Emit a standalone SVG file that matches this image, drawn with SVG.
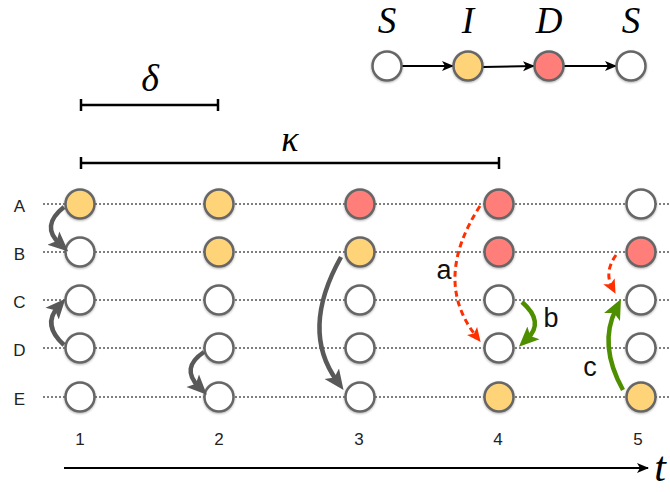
<svg xmlns="http://www.w3.org/2000/svg" width="670" height="492" viewBox="0 0 670 492">
<style>
.n{stroke:#666;stroke-width:2.5}
.s{fill:#ffffff}.i{fill:#FFD479}.d{fill:#FF7E79}
.grid{stroke:#000;stroke-width:1;stroke-dasharray:2 2}
.lab{font-family:"Liberation Sans",Arial,sans-serif;font-size:17px;fill:#222}
.math{font-family:"Liberation Serif","Times New Roman",serif;font-style:italic;fill:#000}
.big{font-family:"Liberation Sans",Arial,sans-serif;font-size:27px;fill:#111}
.ga{fill:none;stroke:#595959;stroke-width:4.5}
.ra{fill:none;stroke:#FF2F00;stroke-width:3;stroke-dasharray:6 4}
.gr{fill:none;stroke:#4E8F00;stroke-width:4.5}
.bar{stroke:#000;stroke-width:2.5}
</style>
<defs>
<filter id="sh" x="-30%" y="-30%" width="160%" height="160%">
<feDropShadow dx="0" dy="1" stdDeviation="1" flood-color="#000" flood-opacity="0.3"/>
</filter>
<marker id="mg" markerUnits="userSpaceOnUse" markerWidth="20" markerHeight="20" viewBox="0 0 18 16" refX="8" refY="8" orient="auto">
<path d="M0,0 L18,8 L0,16 L4,8 z" fill="#595959"/>
</marker>
<marker id="mgr" markerUnits="userSpaceOnUse" markerWidth="20" markerHeight="20" viewBox="0 0 18 16" refX="8" refY="8" orient="auto">
<path d="M0,0 L18,8 L0,16 L4,8 z" fill="#4E8F00"/>
</marker>
<marker id="mr" markerUnits="userSpaceOnUse" markerWidth="14" markerHeight="14" viewBox="0 0 13 12" refX="6" refY="6" orient="auto">
<path d="M0,0 L13,6 L0,12 L3,6 z" fill="#FF2F00"/>
</marker>
<marker id="mb" markerUnits="userSpaceOnUse" markerWidth="12" markerHeight="12" viewBox="0 0 12 10" refX="11" refY="5" orient="auto">
<path d="M0,0 L12,5 L0,10 L3,5 z" fill="#000"/>
</marker>
</defs>
<rect width="670" height="492" fill="#fff"/>

<g id="grid">
<line class="grid" x1="43" y1="204" x2="670" y2="204"/>
<line class="grid" x1="43" y1="252" x2="670" y2="252"/>
<line class="grid" x1="43" y1="300" x2="670" y2="300"/>
<line class="grid" x1="43" y1="348" x2="670" y2="348"/>
<line class="grid" x1="43" y1="397" x2="670" y2="397"/>
</g>

<g id="row-labels">
<text class="lab" x="19.5" y="212" text-anchor="middle">A</text>
<text class="lab" x="19.5" y="260" text-anchor="middle">B</text>
<text class="lab" x="19.5" y="308" text-anchor="middle">C</text>
<text class="lab" x="19.5" y="356" text-anchor="middle">D</text>
<text class="lab" x="19.5" y="405" text-anchor="middle">E</text>
</g>

<g id="time-labels">
<text class="lab" x="80" y="445" text-anchor="middle">1</text>
<text class="lab" x="219" y="445" text-anchor="middle">2</text>
<text class="lab" x="359" y="445" text-anchor="middle">3</text>
<text class="lab" x="498" y="445" text-anchor="middle">4</text>
<text class="lab" x="638" y="445" text-anchor="middle">5</text>
</g>

<g id="scales">
<line class="bar" x1="80" y1="105" x2="219" y2="105"/>
<line class="bar" x1="81" y1="99" x2="81" y2="111"/>
<line class="bar" x1="218" y1="99" x2="218" y2="111"/>
<text class="math" x="150" y="91" font-size="38" text-anchor="middle">δ</text>
<line class="bar" x1="80" y1="163" x2="500" y2="163"/>
<line class="bar" x1="81" y1="157" x2="81" y2="169"/>
<line class="bar" x1="499" y1="157" x2="499" y2="169"/>
<text class="math" x="290" y="151" font-size="36" text-anchor="middle">κ</text>
</g>

<g id="axis">
<line x1="64" y1="468" x2="648" y2="468" stroke="#000" stroke-width="2" marker-end="url(#mb)"/>
<text class="math" x="660" y="481" font-size="42" text-anchor="middle">t</text>
</g>

<g id="legend">
<text class="math" x="387" y="33" font-size="37" text-anchor="middle">S</text>
<text class="math" x="468" y="33" font-size="37" text-anchor="middle">I</text>
<text class="math" x="549" y="33" font-size="37" text-anchor="middle">D</text>
<text class="math" x="631" y="33" font-size="37" text-anchor="middle">S</text>
<line x1="402" y1="66" x2="453" y2="66" stroke="#000" stroke-width="2" marker-end="url(#mb)"/>
<line x1="483" y1="67" x2="534" y2="66" stroke="#000" stroke-width="2" marker-end="url(#mb)"/>
<line x1="564" y1="66" x2="616" y2="66" stroke="#000" stroke-width="2" marker-end="url(#mb)"/>
<g filter="url(#sh)">
<circle class="n s" cx="387" cy="66" r="14.5"/>
<circle class="n i" cx="468" cy="66" r="14.5"/>
<circle class="n d" cx="549" cy="66" r="14.5"/>
<circle class="n s" cx="631" cy="66" r="14.5"/>
</g>
</g>

<g id="nodes" filter="url(#sh)">
<g id="n1A"><circle class="n i" cx="80" cy="204" r="14.5"/></g>
<g id="n1B"><circle class="n s" cx="80" cy="252" r="14.5"/></g>
<g id="n1C"><circle class="n s" cx="80" cy="300" r="14.5"/></g>
<g id="n1D"><circle class="n s" cx="80" cy="348" r="14.5"/></g>
<g id="n1E"><circle class="n s" cx="80" cy="397" r="14.5"/></g>
<g id="n2A"><circle class="n i" cx="219" cy="204" r="14.5"/></g>
<g id="n2B"><circle class="n i" cx="219" cy="252" r="14.5"/></g>
<g id="n2C"><circle class="n s" cx="219" cy="300" r="14.5"/></g>
<g id="n2D"><circle class="n s" cx="219" cy="348" r="14.5"/></g>
<g id="n2E"><circle class="n s" cx="219" cy="397" r="14.5"/></g>
<g id="n3A"><circle class="n d" cx="360" cy="204" r="14.5"/></g>
<g id="n3B"><circle class="n i" cx="360" cy="252" r="14.5"/></g>
<g id="n3C"><circle class="n s" cx="360" cy="300" r="14.5"/></g>
<g id="n3D"><circle class="n s" cx="360" cy="348" r="14.5"/></g>
<g id="n3E"><circle class="n s" cx="360" cy="397" r="14.5"/></g>
<g id="n4A"><circle class="n d" cx="499" cy="204" r="14.5"/></g>
<g id="n4B"><circle class="n d" cx="499" cy="252" r="14.5"/></g>
<g id="n4C"><circle class="n s" cx="499" cy="300" r="14.5"/></g>
<g id="n4D"><circle class="n s" cx="499" cy="348" r="14.5"/></g>
<g id="n4E"><circle class="n i" cx="499" cy="397" r="14.5"/></g>
<g id="n5A"><circle class="n s" cx="641" cy="204" r="14.5"/></g>
<g id="n5B"><circle class="n d" cx="641" cy="252" r="14.5"/></g>
<g id="n5C"><circle class="n s" cx="641" cy="300" r="14.5"/></g>
<g id="n5D"><circle class="n s" cx="641" cy="348" r="14.5"/></g>
<g id="n5E"><circle class="n i" cx="641" cy="397" r="14.5"/></g>
</g>

<g id="connectors">
<path class="ga" d="M64,207 Q40,226 60,244" marker-end="url(#mg)"/>
<path class="ga" d="M64,345 Q42,325 58,307" marker-end="url(#mg)"/>
<path class="ga" d="M204,352 Q180,368 199,387" marker-end="url(#mg)"/>
<path class="ga" d="M341,257 Q300,330 337,381" marker-end="url(#mg)"/>
<path class="ra" d="M480,206 Q432,280 476,336" marker-end="url(#mr)"/>
<path class="gr" d="M522,302 Q545,322 527,339" marker-end="url(#mgr)"/>
<path class="ra" d="M616,255 Q604,272 612,287" marker-end="url(#mr)"/>
<path class="gr" d="M623,390 Q598,345 616,309" marker-end="url(#mgr)"/>
<text class="big" x="444" y="279" text-anchor="middle">a</text>
<text class="big" x="551" y="327" text-anchor="middle">b</text>
<text class="big" x="590" y="376" text-anchor="middle">c</text>
</g>
</svg>
